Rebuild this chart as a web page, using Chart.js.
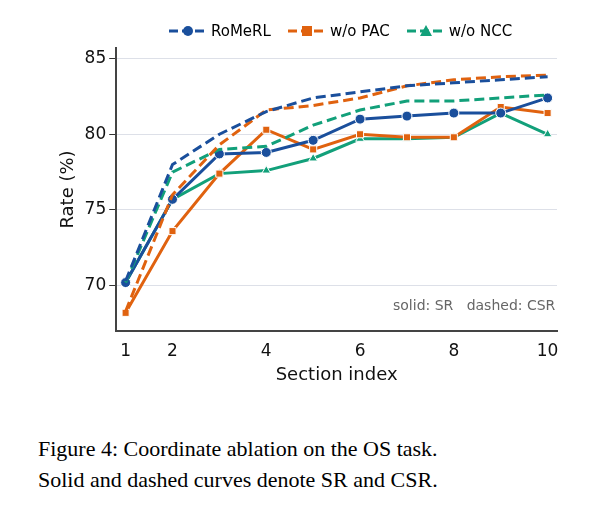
<!DOCTYPE html><html><head><script src="https://cdn.jsdelivr.net/npm/chart.js@4"></script>
<style>body{margin:0;background:#fff;width:589px;height:515px;overflow:hidden}
#wrap{position:absolute;left:0;top:0;width:589px;height:392px}
#leg{position:absolute;top:22px;left:168px;font:15px "DejaVu Sans";display:flex;gap:16px;align-items:center}
#leg span{display:flex;align-items:center;gap:3px}
#cap{position:absolute;left:38px;top:433px;font:22px "Liberation Serif";line-height:31px;color:#000}
#note{position:absolute;left:393px;top:297px;font:14px "DejaVu Sans";color:#666}
</style></head><body>
<div id="wrap"><canvas id="c" width="589" height="392"></canvas></div>
<div id="leg"></div>
<div id="note">solid: SR&nbsp;&nbsp;&nbsp;dashed: CSR</div>
<div id="cap">Figure 4: Coordinate ablation on the OS task.<br>Solid and dashed curves denote SR and CSR.</div>
<script>
const sections=[1,2,3,4,5,6,7,8,9,10];
const xTicks=[1,2,4,6,8,10];
const romerlSR=[70.2,75.7,78.7,78.8,79.6,81.0,81.2,81.4,81.4,82.4];
const pacSR=[68.2,73.6,77.4,80.3,79.0,80.0,79.8,79.8,81.8,81.4];
const nccSR=[70.2,75.7,77.4,77.6,78.4,79.7,79.7,79.8,81.4,80.0];
const romerlCSR=[70.3,78.0,80.0,81.5,82.4,82.8,83.2,83.4,83.6,83.8];
const pacCSR=[68.3,76.0,79.3,81.6,81.9,82.4,83.2,83.6,83.8,83.9];
const nccCSR=[70.2,77.5,79.0,79.2,80.6,81.6,82.2,82.2,82.4,82.6];
const names=["RoMeRL","w/o PAC","w/o NCC"];
const colors=["#1a4f9c","#e0620f","#12a07a"];
const markers=["circle","rect","triangle"];
const pts=a=>a.map((y,i)=>({x:sections[i],y}));
const ds=[];
[[romerlCSR,0],[pacCSR,1],[nccCSR,2]].forEach(([d,i])=>ds.push({data:pts(d),borderColor:colors[i],borderWidth:3,borderDash:[10,5],pointRadius:0,tension:0}));
[[romerlSR,0],[pacSR,1],[nccSR,2]].forEach(([d,i])=>ds.push({data:pts(d),borderColor:colors[i],backgroundColor:colors[i],borderWidth:3,pointStyle:markers[i],pointRadius:5,pointBorderColor:"#fff",pointBorderWidth:1,tension:0}));
new Chart(document.getElementById('c'),{type:'line',data:{datasets:ds},options:{animation:false,responsive:false,
layout:{padding:{left:56,right:32,top:48,bottom:6}},
plugins:{legend:{display:false},tooltip:{enabled:false}},
scales:{x:{type:'linear',min:0.8,max:10.2,afterBuildTicks:s=>{s.ticks=xTicks.map(v=>({value:v}))},
grid:{display:false,drawTicks:true,tickLength:7,tickColor:'#333'},border:{color:'#444',width:2},
ticks:{color:'#111',font:{size:17,family:'DejaVu Sans'},padding:3},
title:{display:true,text:'Section index',color:'#111',font:{size:18,family:'DejaVu Sans'},padding:0}},
y:{min:67,max:85.7,afterBuildTicks:s=>{s.ticks=[70,75,80,85].map(v=>({value:v}))},
grid:{color:'#dde0e8',borderDash:[3,3],tickLength:7,tickColor:'#333'},border:{color:'#444',width:2},
ticks:{color:'#111',font:{size:17,family:'DejaVu Sans'},padding:3},
title:{display:true,text:'Rate (%)',color:'#111',font:{size:18,family:'DejaVu Sans'},padding:2}}}}});
const leg=document.getElementById('leg');
const sym=["<circle cx='20' cy='7' r='5' fill='C'/>","<rect x='15' y='2' width='10' height='10' fill='C'/>","<polygon points='20,1 26,12 14,12' fill='C'/>"];
names.forEach((n,i)=>{leg.innerHTML+=`<span><svg width="40" height="14"><line x1="1" y1="7" x2="39" y2="7" stroke="${colors[i]}" stroke-width="3" stroke-dasharray="9,4"/>${sym[i].replace('C',colors[i])}</svg>${n}</span>`;});
</script></body></html>
